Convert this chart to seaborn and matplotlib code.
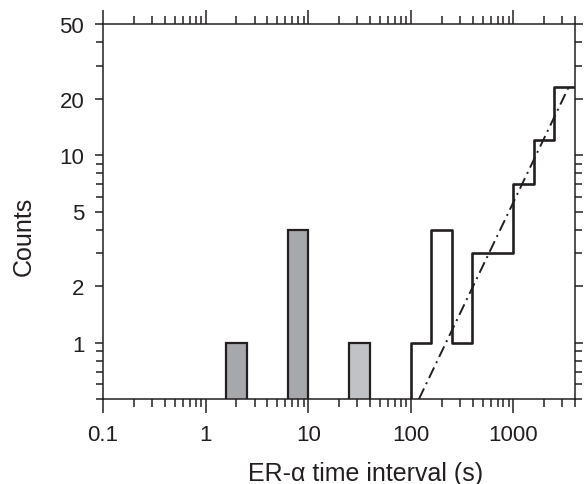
import matplotlib
matplotlib.use("Agg")
import matplotlib.pyplot as plt
import matplotlib.ticker as mticker
import seaborn as sns

# short intervals: filled bars (bin centre in s, counts, shade)
short_centers = [2.0, 7.9, 31.6]
short_counts = [1, 4, 1]
short_kind = ["dark", "dark", "light"]

# long intervals: open step histogram (first bin empty)
long_centers = [79, 126, 200, 316, 501, 794, 1259, 1995, 3162]
long_counts = [0, 1, 4, 1, 3, 3, 7, 12, 23]

# dash-dot fit line end points
fit_x = [120, 3450]
fit_y = [0.5, 23]

x_ticks = [0.1, 1, 10, 100, 1000]
x_labels = ["0.1", "1", "10", "100", "1000"]
y_ticks = [1, 2, 5, 10, 20, 50]
y_labels = ["1", "2", "5", "10", "20", "50"]
y_minor = [0.5, 0.6, 0.7, 0.8, 0.9, 3, 4, 6, 7, 8, 9, 30, 40]

ink = "#231f20"
plt.rcParams["font.family"] = ["Liberation Sans", "DejaVu Sans"]
plt.rcParams["text.color"] = ink
plt.rcParams["axes.labelcolor"] = ink
plt.rcParams["xtick.color"] = ink
plt.rcParams["ytick.color"] = ink

fig = plt.figure(figsize=(5.88, 4.85), dpi=100)
ax = fig.add_axes([103 / 588, 85 / 485, 472 / 588, 375 / 485])

# bins are 0.2 decade wide (log10 units)
sns.histplot(x=short_centers, weights=short_counts, hue=short_kind,
             palette={"dark": "#a7a8ab", "light": "#c1c2c5"},
             binwidth=0.2, binrange=(0.2, 1.6), log_scale=True,
             element="bars", alpha=1, edgecolor=ink, linewidth=1.6,
             legend=False, ax=ax)

sns.histplot(x=long_centers, weights=long_counts,
             binwidth=0.2, binrange=(1.8, 3.6), log_scale=True,
             element="step", fill=False, color=ink, linewidth=1.9,
             ax=ax)

sns.lineplot(x=fit_x, y=fit_y, color=ink, linewidth=1.4,
             linestyle=(0, (6, 2.5, 1, 2.5)), ax=ax)

ax.set_yscale("log")
ax.set_xlim(0.1, 10 ** 3.6)
ax.set_ylim(0.5, 50)

x_minor = [m * 10 ** e for e in range(-1, 4) for m in range(2, 10)
           if m * 10 ** e < 3981] + [10 ** 3.6]
ax.xaxis.set_major_locator(mticker.FixedLocator(x_ticks))
ax.xaxis.set_major_formatter(mticker.FixedFormatter(x_labels))
ax.xaxis.set_minor_locator(mticker.FixedLocator(x_minor))
ax.xaxis.set_minor_formatter(mticker.NullFormatter())
ax.yaxis.set_major_locator(mticker.FixedLocator(y_ticks))
ax.yaxis.set_major_formatter(mticker.FixedFormatter(y_labels))
ax.yaxis.set_minor_locator(mticker.FixedLocator(y_minor))
ax.yaxis.set_minor_formatter(mticker.NullFormatter())

ax.tick_params(which="both", direction="out", top=True, right=True,
               labeltop=False, labelright=False, width=1.1, color=ink)
ax.tick_params(axis="x", which="major", length=10, pad=8, labelsize=16)
ax.tick_params(axis="x", which="minor", length=5.5)
ax.tick_params(axis="y", which="major", length=5.5, pad=8, labelsize=16)
ax.tick_params(axis="y", which="minor", length=5)

for s in ax.spines.values():
    s.set_linewidth(1.1)
    s.set_color(ink)

ax.set_xlabel("ER-α time interval (s)", fontsize=18)
ax.set_ylabel("Counts", fontsize=18)
ax.xaxis.set_label_coords(0.557, -0.165)
ax.yaxis.set_label_coords(-0.142, 0.437)

fig.savefig("out.png", dpi=100)
